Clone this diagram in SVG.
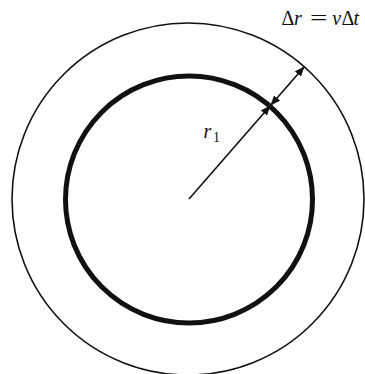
<svg xmlns="http://www.w3.org/2000/svg" width="365" height="374" viewBox="0 0 365 374">
<style>
.m{font-family:"Liberation Serif","Times New Roman",serif;font-size:20px;fill:#111}
.i{font-style:italic}
.c{fill:none;stroke:#111}
.a{stroke:#111;stroke-width:1.6;fill:none}
</style>
<defs>
<marker id="ah" viewBox="0 0 10 8" refX="10" refY="4" markerWidth="10" markerHeight="8" markerUnits="userSpaceOnUse" orient="auto-start-reverse">
<path d="M0,0 L10,4 L0,8 z" fill="#111"/>
</marker>
</defs>
<rect width="365" height="374" fill="#fff"/>
<g id="outer-circle"><circle class="c" cx="188" cy="199" r="176" stroke-width="1.6"/></g>
<g id="inner-circle"><circle class="c" cx="189" cy="199.5" r="123.5" stroke-width="5"/></g>
<g id="connectors">
<line class="a" x1="189" y1="199" x2="270.5" y2="105.5" marker-end="url(#ah)"/>
<line class="a" x1="270.5" y1="105.5" x2="304.5" y2="66.5" marker-start="url(#ah)" marker-end="url(#ah)"/>
</g>
<g id="label-r1"><text class="m" x="203.5" y="137.5" font-size="22"><tspan class="i">r</tspan><tspan font-size="14" x="213" y="142">1</tspan></text></g>
<g id="label-dr">
<text class="m" y="24.7"><tspan x="281.5">Δ</tspan><tspan class="i" x="294">r</tspan><tspan class="i" x="332.3">v</tspan><tspan x="341.5">Δ</tspan><tspan class="i" x="353.5">t</tspan></text>
<text class="m" transform="translate(310,24.7) scale(1.55,1)" x="0" y="0">=</text>
</g>
</svg>
